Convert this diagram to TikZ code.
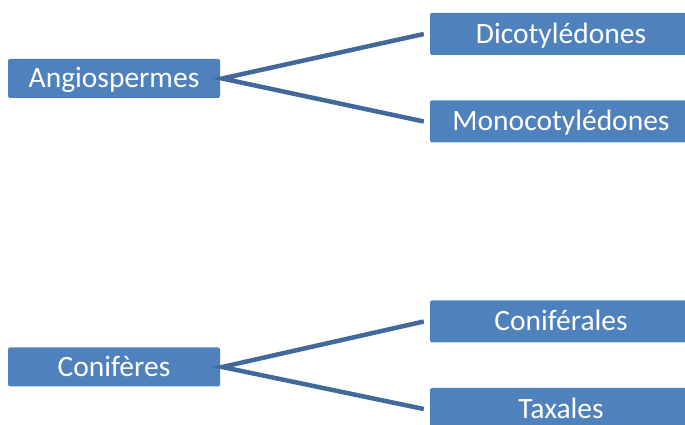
\documentclass[tikz,border=0pt]{standalone}
\usepackage{fontspec}
\setmainfont{Carlito}
\usetikzlibrary{arrows.meta}

\definecolor{boxblue}{HTML}{4F81BD}
\definecolor{linkblue}{HTML}{41699C}

\begin{document}
\begin{tikzpicture}[x=1pt, y=1pt,
	taxon/.style={rectangle, rounded corners=1.5pt, fill=boxblue, text=white,
		font=\fontsize{29.5}{34}\selectfont, text height=19pt, text depth=0pt, inner sep=0pt},
	parent/.style={taxon, minimum width=212pt, minimum height=39pt},
	child/.style={taxon, minimum width=262pt, minimum height=42pt},
	link/.style={linkblue, line width=4.5pt, line join=miter}]
	\useasboundingbox (0,0) rectangle (685,425);
	%%%	Disegno
	% Angiospermes
	\node[parent] (ang) at (114, 346.5) {Angiospermes};
	\node[child] (dic) at (561, 391) {Dicotylédones};
	\node[child] (mono) at (561, 303.5) {Monocotylédones};
	\draw[link] ([xshift=-6pt]dic.west) -- ([xshift=2pt]ang.east) -- ([xshift=-6pt]mono.west);
	
	% Conifères
	\node[parent] (con) at (114, 58) {Conifères};
	\node[child] (cfr) at (561, 103.5) {Coniférales};
	\node[child] (tax) at (561, 16) {Taxales};
	\draw[link] ([xshift=-6pt]cfr.west) -- ([xshift=2pt]con.east) -- ([xshift=-6pt]tax.west);
	
\end{tikzpicture}
\end{document}
